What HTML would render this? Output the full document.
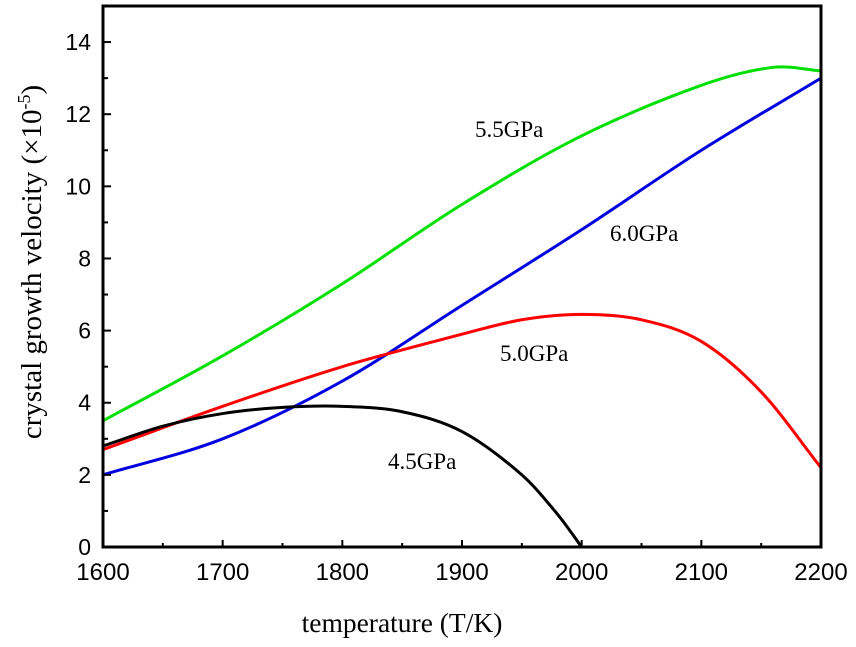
<!DOCTYPE html>
<html><head><meta charset="utf-8"><style>
body{margin:0;background:#fff;}
svg text{font-family:"Liberation Sans",sans-serif;}
.serif{font-family:"Liberation Serif",serif !important;}
</style></head><body>
<svg id="chart" width="856" height="642" xmlns="http://www.w3.org/2000/svg">
<g id="g"></g>
</svg>
<script>
const xTicks=[1600,1700,1800,1900,2000,2100,2200];
const yTicks=[0,2,4,6,8,10,12,14];
const tempsA=[1600,1700,1800,1900,2000,2100,2160,2200];
const v55=[3.5,5.3,7.3,9.5,11.4,12.8,13.3,13.2];
const tempsB=[1600,1700,1800,1900,2000,2100,2200];
const v60=[2.0,3.0,4.6,6.7,8.8,11.0,13.0];
const tempsC=[1600,1700,1800,1900,1950,2000,2050,2100,2150,2200];
const v50=[2.7,3.9,5.0,5.9,6.3,6.45,6.3,5.7,4.3,2.2];
const tempsD=[1600,1650,1700,1750,1800,1850,1900,1950,1980,2000];
const v45=[2.8,3.35,3.7,3.87,3.9,3.75,3.2,2.0,0.9,0];
const NS='http://www.w3.org/2000/svg';
const X0=103,X1=821,Y0=547,Y1=6;
const sx=v=>X0+(v-1600)/600*(X1-X0);
const sy=v=>Y0-v/15*(Y0-Y1);
const g=document.getElementById('g');
function mk(t,a){const e=document.createElementNS(NS,t);for(const k in a)e.setAttribute(k,a[k]);g.appendChild(e);return e;}
function path(xs,ys){const p=xs.map((x,i)=>[sx(x),sy(ys[i])]);let d='M'+p[0];for(let i=0;i<p.length-1;i++){const a=p[i-1]||p[i],b=p[i],c=p[i+1],e=p[i+2]||c;
const h=c[0]-b[0];const t1=(c[1]-a[1])/(c[0]-a[0]||1),t2=(e[1]-b[1])/(e[0]-b[0]||1);
d+=' C'+(b[0]+h/3)+','+(b[1]+t1*h/3)+' '+(c[0]-h/3)+','+(c[1]-t2*h/3)+' '+c;}return d;}
const series=[[tempsA,v55,'#00e000','series-5-5gpa'],[tempsB,v60,'#0000e0','series-6-0gpa'],[tempsC,v50,'#ff0000','series-5-0gpa'],[tempsD,v45,'#000','series-4-5gpa']];
series.forEach(s=>{const e=mk('path',{d:path(s[0],s[1]),fill:'none',stroke:s[2],'stroke-width':3});

});
const fr=mk('rect',{x:X0,y:Y1,width:X1-X0,height:Y0-Y1,fill:'none',stroke:'#000','stroke-width':3});


xTicks.forEach((t,i)=>{const x=sx(t);mk('line',{x1:x,x2:x,y1:Y0,y2:Y0-7,stroke:'#000','stroke-width':2});
if(i<xTicks.length-1){const m=sx(t+50);mk('line',{x1:m,x2:m,y1:Y0,y2:Y0-4,stroke:'#000','stroke-width':2});}
const l=mk('text',{x:x,y:Y0+33,'text-anchor':'middle','font-size':24});l.textContent=t;

});
yTicks.forEach(t=>{const y=sy(t);mk('line',{x1:X0,x2:X0+8,y1:y,y2:y,stroke:'#000','stroke-width':2});
const m=sy(t+1);mk('line',{x1:X0,x2:X0+5,y1:m,y2:m,stroke:'#000','stroke-width':2});
const l=mk('text',{x:X0-12,y:y+8,'text-anchor':'end','font-size':23});l.textContent=t;

});
const labels=[['5.5GPa',475,137],['6.0GPa',610,241],['5.0GPa',500,361],['4.5GPa',388,469]];
labels.forEach(a=>{const l=mk('text',{x:a[1],y:a[2],'font-size':23,class:'serif'});l.textContent=a[0];

});
const xt=mk('text',{x:402,y:632,'text-anchor':'middle','font-size':27.5,class:'serif'});xt.textContent='temperature (T/K)';


const yt=mk('text',{x:0,y:0,'text-anchor':'middle','font-size':29,class:'serif',transform:'translate(41,262) rotate(-90)'});
yt.innerHTML='crystal growth velocity (×10<tspan dy="-11" font-size="18">-5</tspan><tspan dy="11">)</tspan>';


</script>
</body></html>
